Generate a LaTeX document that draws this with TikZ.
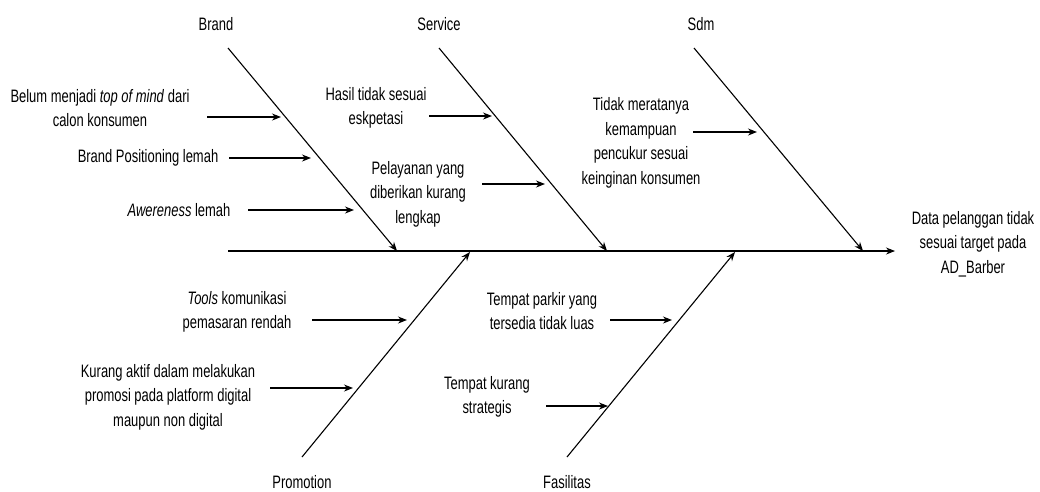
\documentclass[tikz,border=0pt]{standalone}
\usepackage{fontspec}
\setmainfont{Liberation Sans}[FakeStretch=0.72]
\usetikzlibrary{arrows.meta}
\begin{document}
\begin{tikzpicture}[x=1pt,y=-1pt,
  lbl/.style={inner sep=0pt,align=center,font=\fontsize{18}{24.5}\selectfont},
  bone/.style={line width=1.1pt,-{Stealth[length=9pt,width=7pt]}},
  sub/.style={line width=1.2pt,-{Stealth[length=9pt,width=7pt]}}]
\useasboundingbox (0,0) rectangle (1040,491);
% coordinates
\coordinate (sp0) at (228,251);
\coordinate (sp1) at (895,251);
\coordinate (b0) at (228,48);  \coordinate (b1) at (397,251);
\coordinate (s0) at (439,48);  \coordinate (s1) at (607,251);
\coordinate (d0) at (694,48);  \coordinate (d1) at (863,251);
\coordinate (p0) at (302,457); \coordinate (p1) at (470,252);
\coordinate (f0) at (567,457); \coordinate (f1) at (735,252);
% category labels
\node[lbl] (brand) at (216,24) {Brand};
\node[lbl] (service) at (439,24) {Service};
\node[lbl] (sdm) at (701,24) {Sdm};
\node[lbl] (promo) at (302,482) {Promotion};
\node[lbl] (fas) at (567,482) {Fasilitas};
% head
\node[lbl] (head) at (973,244) {Data pelanggan tidak\\sesuai target pada\\AD\_Barber};
% causes
\node[lbl] (c1) at (100,108) {Belum menjadi \textit{top of mind} dari\\calon konsumen};
\node[lbl] (c2) at (148,158) {Brand Positioning lemah};
\node[lbl] (c3) at (179,210) {\textit{Awereness} lemah};
\node[lbl] (c4) at (376,108) {Hasil tidak sesuai\\eskpetasi};
\node[lbl] (c5) at (418,194) {Pelayanan yang\\diberikan kurang\\lengkap};
\node[lbl] (c6) at (641,143) {Tidak meratanya\\kemampuan\\pencukur sesuai\\keinginan konsumen};
\node[lbl] (c7) at (237,312) {\textit{Tools} komunikasi\\pemasaran rendah};
\node[lbl] (c8) at (168,397) {Kurang aktif dalam melakukan\\promosi pada platform digital\\maupun non digital};
\node[lbl] (c9) at (542,311) {Tempat parkir yang\\tersedia tidak luas};
\node[lbl] (c10) at (487,397) {Tempat kurang\\strategis};
% arrow endpoints
\coordinate (a1s) at (207,117); \coordinate (a1e) at (281,117);
\coordinate (a2s) at (229,158); \coordinate (a2e) at (311,158);
\coordinate (a3s) at (248,210); \coordinate (a3e) at (354,210);
\coordinate (a4s) at (429,116); \coordinate (a4e) at (492,116);
\coordinate (a5s) at (482,184); \coordinate (a5e) at (545,184);
\coordinate (a6s) at (693,132); \coordinate (a6e) at (757,132);
\coordinate (a7s) at (312,320); \coordinate (a7e) at (407,320);
\coordinate (a8s) at (270,388); \coordinate (a8e) at (353,388);
\coordinate (a9s) at (610,320); \coordinate (a9e) at (672,320);
\coordinate (a10s) at (546,406); \coordinate (a10e) at (608,406);
% spine and bones
\draw[bone] (sp0) -- (sp1);
\draw[bone] (b0) -- (b1);
\draw[bone] (s0) -- (s1);
\draw[bone] (d0) -- (d1);
\draw[bone] (p0) -- (p1);
\draw[bone] (f0) -- (f1);
% sub arrows
\foreach \i in {1,...,10} {\draw[sub] (a\i s) -- (a\i e);}
\end{tikzpicture}
\end{document}
